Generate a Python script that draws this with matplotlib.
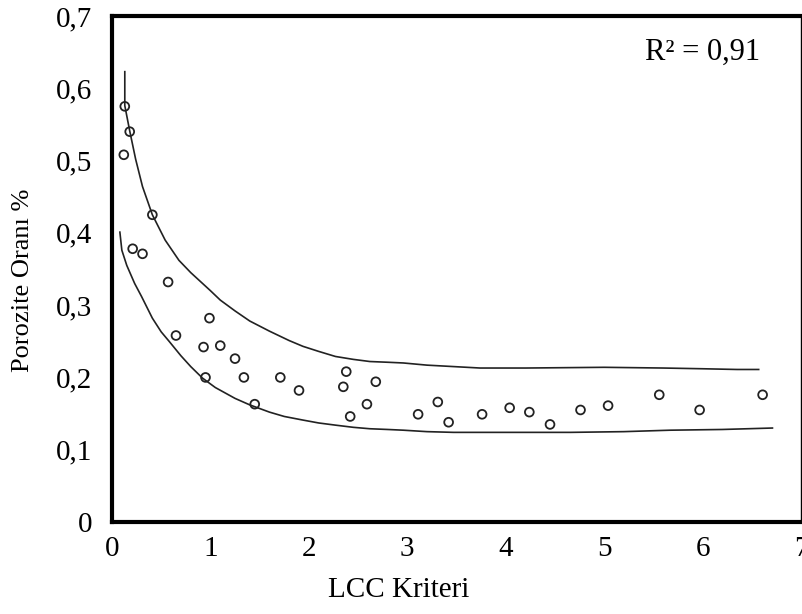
import matplotlib
matplotlib.use("Agg")
import matplotlib.pyplot as plt

# veri noktalari (LCC kriteri, porozite orani)
lcc = [0.13, 0.18, 0.12, 0.41, 0.21, 0.31, 0.57, 0.65, 0.99, 0.93, 1.10, 1.25,
       0.95, 1.34, 1.45, 1.71, 1.90, 2.38, 2.35, 2.68, 2.42, 2.59, 3.11, 3.31,
       3.42, 3.76, 4.04, 4.24, 4.45, 4.76, 5.04, 5.56, 5.97, 6.61]
poro = [0.575, 0.540, 0.508, 0.425, 0.378, 0.371, 0.332, 0.258, 0.282, 0.242, 0.244, 0.226,
        0.200, 0.200, 0.163, 0.200, 0.182, 0.208, 0.187, 0.194, 0.146, 0.163, 0.149, 0.166,
        0.138, 0.149, 0.158, 0.152, 0.135, 0.155, 0.161, 0.176, 0.155, 0.176]

# ust sinir egrisi (resimden okunan noktalar)
ust_x = [0.13, 0.13, 0.18, 0.24, 0.31, 0.41, 0.54, 0.68, 0.80, 0.92, 1.00, 1.10, 1.25,
         1.40, 1.60, 1.80, 1.94, 2.10, 2.27, 2.45, 2.62, 2.80, 2.96, 3.20, 3.47,
         3.74, 4.20, 5.00, 5.60, 6.00, 6.35, 6.57]
ust_y = [0.623, 0.576, 0.541, 0.502, 0.464, 0.425, 0.390, 0.362, 0.345, 0.330, 0.320, 0.307, 0.292,
         0.278, 0.264, 0.251, 0.243, 0.236, 0.229, 0.225, 0.222, 0.221, 0.220, 0.217, 0.215,
         0.213, 0.213, 0.214, 0.213, 0.212, 0.211, 0.211]

# alt sinir egrisi
alt_x = [0.08, 0.10, 0.15, 0.23, 0.30, 0.41, 0.50, 0.58, 0.70, 0.80, 0.92, 1.05, 1.25,
         1.40, 1.60, 1.75, 1.94, 2.10, 2.27, 2.45, 2.62, 2.80, 2.96, 3.20, 3.47,
         4.00, 4.66, 5.20, 5.67, 6.20, 6.71]
alt_y = [0.401, 0.376, 0.355, 0.330, 0.312, 0.282, 0.263, 0.250, 0.230, 0.215, 0.199, 0.186, 0.171,
         0.162, 0.152, 0.146, 0.141, 0.137, 0.134, 0.131, 0.129, 0.128, 0.127, 0.125, 0.124,
         0.124, 0.124, 0.125, 0.127, 0.128, 0.130]

xticks = [0, 1, 2, 3, 4, 5, 6, 7]
yticks = [0, 0.1, 0.2, 0.3, 0.4, 0.5, 0.6, 0.7]
ytick_labels = ["0", "0,1", "0,2", "0,3", "0,4", "0,5", "0,6", "0,7"]

plt.rcParams['font.family'] = ['Liberation Serif', 'DejaVu Serif']

fig = plt.figure(figsize=(8.03, 6.14), dpi=100)
ax = fig.add_axes([112/803, 1 - 522/614, (801 - 112)/803, (522 - 16)/614])

ax.plot(ust_x, ust_y, color='#222222', lw=1.2)
ax.plot(alt_x, alt_y, color='#222222', lw=1.2)
ax.scatter(lcc, poro, s=40, facecolors='none', edgecolors='#222222', linewidths=1.3, zorder=3)

ax.set_xlim(0, 7)
ax.set_ylim(0, 0.7)
ax.set_xticks(xticks)
ax.set_xticklabels([str(t) for t in xticks])
ax.set_yticks(yticks)
ax.set_yticklabels(ytick_labels)
ax.tick_params(length=0, labelsize=21)
ax.tick_params(axis='y', pad=14)
ax.tick_params(axis='x', pad=10)

for s in ['left', 'bottom', 'top']:
    ax.spines[s].set_linewidth(3)
ax.spines['right'].set_linewidth(1)

ax.set_xlabel("LCC Kriteri", fontsize=21)
ax.xaxis.set_label_coords((399 - 112) / 689, -0.108)
ax.set_ylabel("Porozite Oranı %", fontsize=19)
ax.yaxis.set_label_coords(-0.113, (522 - 280) / 506)

ax.text(0.9405, 0.929, "R² = 0,91", transform=ax.transAxes, fontsize=22,
        ha='right', va='center')

fig.savefig("out.png", dpi=100)
